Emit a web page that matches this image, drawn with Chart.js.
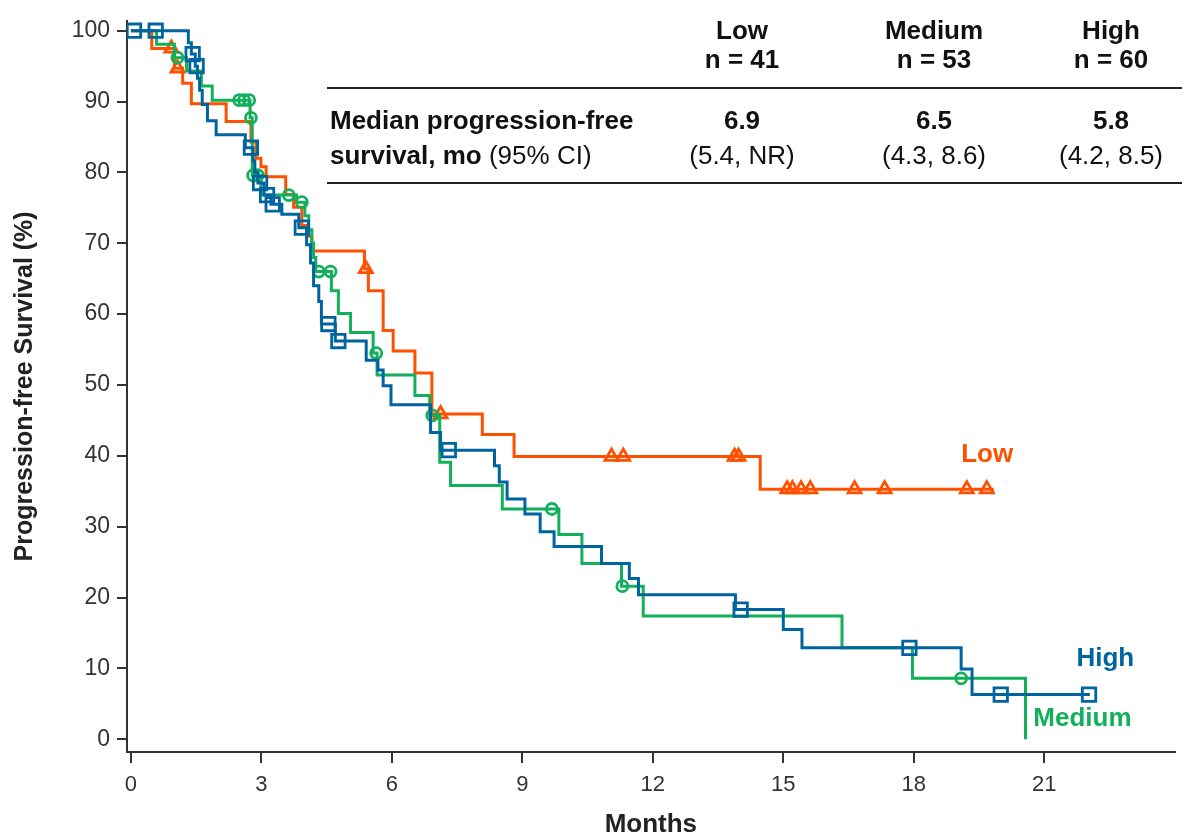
<!DOCTYPE html>
<html>
<head>
<meta charset="utf-8">
<title>Progression-free survival by group</title>
<script src="https://cdn.jsdelivr.net/npm/chart.js"></script>
<style>
  body { margin: 0; background: #fff; }
  #wrap { width: 1187px; height: 838px; }
</style>
</head>
<body>
<div id="wrap"><canvas id="pfsChart"></canvas></div>
<script>
  // Kaplan-Meier steps: time (months) and survival (%) after each drop
  const lowTime = [0, 0.48, 1.00, 1.19, 1.39, 2.19, 2.76, 2.88, 2.99, 3.11, 3.56, 3.74, 3.93, 4.04, 4.16, 5.37, 5.46, 5.80, 6.03, 6.53, 6.92, 8.08, 8.81, 14.47, 19.84];
  const lowSurv = [100, 97.5, 94.7, 92.6, 89.7, 87.2, 84.3, 82.0, 80.8, 79.4, 76.9, 75.1, 72.5, 71.0, 68.9, 66.4, 63.3, 57.7, 54.8, 51.7, 45.9, 43.0, 39.9, 35.3, 35.3];
  const lowCensTime = [0.93, 1.07, 5.40, 7.12, 11.05, 11.32, 13.88, 13.97, 15.09, 15.21, 15.41, 15.62, 16.64, 17.33, 19.22, 19.68];
  const lowCensSurv = [97.5, 94.7, 66.4, 45.9, 39.9, 39.9, 39.9, 39.9, 35.3, 35.3, 35.3, 35.3, 35.3, 35.3, 35.3, 35.3];

  const medTime = [0, 0.59, 1.00, 1.28, 1.62, 1.87, 2.74, 2.79, 2.99, 3.81, 4.00, 4.09, 4.16, 4.20, 4.25, 4.61, 4.77, 5.05, 5.57, 5.66, 6.53, 6.87, 7.10, 7.35, 8.54, 9.84, 10.37, 11.28, 11.78, 16.35, 17.97, 20.57];
  const medSurv = [100, 98.1, 96.2, 94.3, 92.2, 90.2, 87.7, 79.6, 76.8, 75.8, 73.9, 71.9, 70.0, 68.0, 66.0, 63.3, 60.1, 57.4, 54.5, 51.4, 48.5, 45.7, 39.1, 35.8, 32.5, 28.9, 24.8, 21.6, 17.4, 12.9, 8.6, 0];
  const medCensTime = [1.07, 2.49, 2.60, 2.72, 2.76, 2.81, 2.92, 3.63, 3.93, 4.32, 4.59, 5.64, 6.93, 9.68, 11.30, 19.09];
  const medCensSurv = [96.2, 90.2, 90.2, 90.2, 87.7, 79.6, 79.6, 76.8, 75.8, 66.0, 66.0, 54.5, 45.7, 32.5, 21.6, 8.6];

  const highTime = [0, 1.32, 1.39, 1.48, 1.53, 1.58, 1.64, 1.76, 1.96, 2.63, 2.81, 2.85, 2.92, 3.06, 3.22, 3.47, 3.86, 4.04, 4.13, 4.20, 4.32, 4.38, 4.70, 5.41, 5.68, 5.80, 5.98, 6.89, 7.12, 8.36, 8.47, 8.65, 9.06, 9.41, 9.73, 10.82, 11.46, 11.67, 13.90, 15.00, 15.43, 19.09, 19.34, 22.05];
  const highSurv = [100, 98.3, 96.7, 95.0, 93.3, 91.6, 89.6, 87.3, 85.3, 83.5, 81.6, 80.0, 78.5, 76.8, 75.5, 74.1, 72.2, 69.8, 67.2, 64.0, 61.8, 58.6, 56.2, 53.5, 52.1, 49.9, 47.2, 43.3, 40.8, 38.6, 36.3, 33.9, 31.8, 29.3, 27.2, 24.8, 22.7, 20.4, 18.3, 15.5, 12.9, 9.9, 6.3, 6.3];
  const highCensTime = [0.07, 0.57, 1.42, 1.51, 2.76, 2.97, 3.13, 3.26, 3.93, 4.54, 4.77, 7.31, 14.02, 17.90, 20.00, 22.03];
  const highCensSurv = [100, 100, 96.7, 95.0, 83.5, 78.5, 76.8, 75.5, 72.2, 58.6, 56.2, 40.8, 18.3, 12.9, 6.3, 6.3];

  const xTicks = [0, 3, 6, 9, 12, 15, 18, 21];
  const yTicks = [0, 10, 20, 30, 40, 50, 60, 70, 80, 90, 100];

  // summary table
  const groupNames = ['Low', 'Medium', 'High'];
  const groupN = ['n = 41', 'n = 53', 'n = 60'];
  const medianPfs = ['6.9', '6.5', '5.8'];
  const medianCi = ['(5.4, NR)', '(4.3, 8.6)', '(4.2, 8.5)'];

  const COL = { low: '#ff5000', med: '#12b05a', high: '#00649f' };
  const FONT = "'Liberation Sans', Arial, sans-serif";

  const pts = (t, s) => t.map((v, i) => ({ x: v, y: s[i] }));

  // horizontal first, then drop: stepped 'before' in Chart.js terms
  function curve(label, t, s, color, order) {
    return {
      label, data: pts(t, s), showLine: true, stepped: 'before',
      borderColor: color, borderWidth: 3, pointRadius: 0, order
    };
  }
  function censors(label, t, s, color, style, r, order) {
    return {
      label, data: pts(t, s), showLine: false, pointStyle: style,
      pointRadius: r, borderColor: color, borderWidth: 2.8,
      backgroundColor: 'rgba(0,0,0,0)', order
    };
  }

  const overlayPlugin = {
    id: 'overlay',
    afterDraw(chart) {
      const ctx = chart.ctx;
      const xs = chart.scales.x, ys = chart.scales.y;
      ctx.save();
      ctx.textBaseline = 'middle';

      // group labels next to the curves
      ctx.font = 'bold 26px ' + FONT;
      ctx.textAlign = 'left';
      [['Low', 19.09, 40.1, COL.low], ['High', 21.74, 11.3, COL.high], ['Medium', 20.75, 2.9, COL.med]]
        .forEach(([txt, mx, my, c]) => {
          ctx.fillStyle = c;
          ctx.fillText(txt, xs.getPixelForValue(mx), ys.getPixelForValue(my));
        });

      // table
      const cols = [742, 934, 1111];
      ctx.fillStyle = '#111';
      ctx.textAlign = 'center';
      ctx.font = 'bold 26px ' + FONT;
      cols.forEach((cx, i) => {
        ctx.fillText(groupNames[i], cx, 32);
        ctx.fillText(groupN[i], cx, 61);
        ctx.fillText(medianPfs[i], cx, 122);
      });
      ctx.font = '26px ' + FONT;
      cols.forEach((cx, i) => ctx.fillText(medianCi[i], cx, 157));

      ctx.textAlign = 'left';
      ctx.font = 'bold 26px ' + FONT;
      ctx.fillText('Median progression-free', 330, 122);
      const lead = 'survival, mo ';
      ctx.fillText(lead, 330, 157);
      const w = ctx.measureText(lead).width;
      ctx.font = '26px ' + FONT;
      ctx.fillText('(95% CI)', 330 + w, 157);

      ctx.strokeStyle = '#222';
      ctx.lineWidth = 2;
      [88, 183].forEach(y => {
        ctx.beginPath();
        ctx.moveTo(327, y);
        ctx.lineTo(1182, y);
        ctx.stroke();
      });
      ctx.restore();
    }
  };

  new Chart(document.getElementById('pfsChart'), {
    type: 'scatter',
    data: {
      datasets: [
        curve('High', highTime, highSurv, COL.high, 1),
        censors('High censored', highCensTime, highCensSurv, COL.high, 'rect', 9.5, 0),
        curve('Medium', medTime, medSurv, COL.med, 3),
        censors('Medium censored', medCensTime, medCensSurv, COL.med, 'circle', 5.5, 2),
        curve('Low', lowTime, lowSurv, COL.low, 5),
        censors('Low censored', lowCensTime, lowCensSurv, COL.low, 'triangle', 7.5, 4)
      ]
    },
    options: {
      responsive: true,
      maintainAspectRatio: false,
      animation: false,
      layout: { padding: { top: 15, right: 5, left: 0, bottom: 0 } },
      plugins: { legend: { display: false }, tooltip: { enabled: false } },
      scales: {
        x: {
          type: 'linear', min: -0.09, max: 24,
          afterBuildTicks: s => { s.ticks = xTicks.map(v => ({ value: v })); },
          afterFit: s => { s.height = 86; },
          grid: { drawOnChartArea: false, tickLength: 11, color: '#333', lineWidth: 2 },
          border: { color: '#333', width: 2 },
          ticks: { color: '#333', padding: 9, font: { family: FONT, size: 22 } },
          title: {
            display: true, text: 'Months', color: '#222',
            font: { family: FONT, size: 26, weight: 'bold', lineHeight: 1 },
            padding: { top: 0, bottom: 0 }
          }
        },
        y: {
          type: 'linear', min: -1.8, max: 101.4,
          afterBuildTicks: s => { s.ticks = yTicks.map(v => ({ value: v })); },
          afterFit: s => { s.width = 127; },
          grid: { drawOnChartArea: false, tickLength: 10, color: '#333', lineWidth: 2 },
          border: { color: '#333', width: 2 },
          ticks: { color: '#333', padding: 7, font: { family: FONT, size: 23 } },
          title: {
            display: true, text: 'Progression-free Survival (%)', color: '#222',
            font: { family: FONT, size: 25, weight: 'bold', lineHeight: 1 },
            padding: { top: 13, bottom: 0 }
          }
        }
      }
    },
    plugins: [overlayPlugin]
  });
</script>
</body>
</html>
